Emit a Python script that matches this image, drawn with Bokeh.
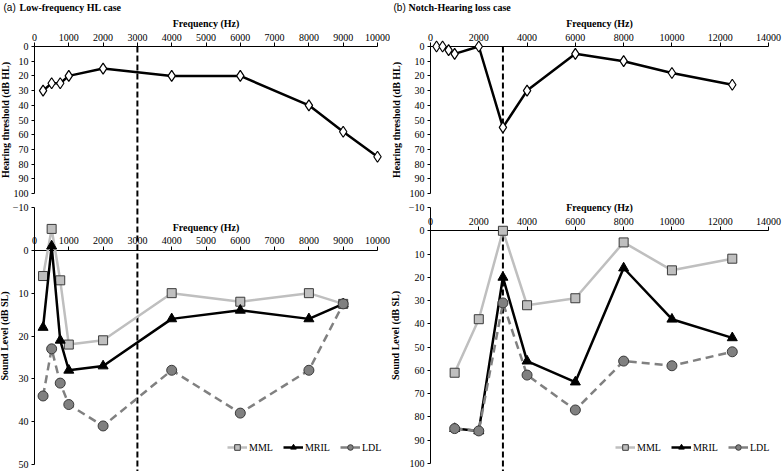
from bokeh.plotting import figure
from bokeh.models import (Range1d, LinearAxis, FixedTicker, Legend, LegendItem, Label)
from bokeh.layouts import row
from bokeh.embed import file_html
from bokeh.resources import INLINE

FONT = "Liberation Serif"

# ---------------- data ----------------
# (a) Low-frequency HL case
freq_a_hl = [250, 500, 750, 1000, 2000, 4000, 6000, 8000, 9000, 10000]
hl_a = [30, 25, 25, 20, 15, 20, 20, 40, 58, 75]
freq_a_sl = [250, 500, 750, 1000, 2000, 4000, 6000, 8000, 9000]
mml_a = [6, -5, 7, 22, 21, 10, 12, 10, 12.5]
mril_a = [18, -1, 21, 28, 27, 16, 14, 16, 12.5]
ldl_a = [34, 23, 31, 36, 41, 28, 38, 28, 12.5]
xticks_a = list(range(0, 10001, 1000))

# (b) Notch-Hearing loss case
freq_b_hl = [250, 500, 750, 1000, 2000, 3000, 4000, 6000, 8000, 10000, 12500]
hl_b = [0, 0, 2.5, 5, 0, 55, 30, 5, 10, 18, 26]
freq_b_sl = [1000, 2000, 3000, 4000, 6000, 8000, 10000, 12500]
mml_b = [61, 38, 0, 32, 29, 5, 17, 12]
mril_b = [85, 86, 20, 56, 65, 16, 38, 46]
ldl_b = [85, 86, 31, 62, 77, 56, 58, 52]
xticks_b = list(range(0, 14001, 2000))

hl_ticks = list(range(0, 101, 10))
sl_ticks_a = list(range(-10, 51, 10))
sl_ticks_b = list(range(-10, 101, 10))
notch_freq = 3000

MML_C = "#bfbfbf"
LDL_C = "#808080"
EDGE = "#3a3a3a"
H = 471


def hrange(px_a, val_a, px_b, val_b, total):
    s = (px_b - px_a) / (val_b - val_a)
    return Range1d(start=val_a - px_a / s, end=val_a + (total - px_a) / s)


def vrange(px_a, val_a, px_b, val_b, total):
    # reversed axis: values grow downwards
    s = (px_b - px_a) / (val_b - val_a)
    return Range1d(start=val_a + (total - px_a) / s, end=val_a - px_a / s)


def style_axis(ax, label, vertical=False, title_gap=0):
    ax.axis_label = label
    ax.axis_label_text_font = FONT
    ax.axis_label_text_font_style = "bold"
    ax.axis_label_text_font_size = "10px"
    ax.axis_label_text_color = "black"
    ax.major_label_text_font = FONT
    ax.major_label_text_font_size = "10px"
    ax.major_label_text_color = "black"
    ax.axis_line_color = "black"
    ax.axis_line_width = 1
    ax.major_tick_line_color = "black"
    ax.major_tick_in = 0
    ax.minor_tick_line_color = None
    ax.level = "underlay"
    if vertical:
        ax.major_tick_out = 3
        ax.major_label_standoff = 3
        ax.axis_label_standoff = title_gap
    else:
        ax.major_tick_out = 4
        ax.major_label_standoff = 2
        ax.axis_label_standoff = 2


def side(width, x0px, x1px, xmax, xticks, tag, title, title_dx, ylab_gap,
         freqs_hl, hl, sl_px, sl_max, sl_ticks, freqs_sl, mml, mril, ldl, leg_x):
    xr = hrange(x0px, 0, x1px, xmax, width)
    yr = vrange(46, 0, 193, 100, H)
    sl = vrange(207, -10, sl_px, sl_max, H)
    p = figure(width=width, height=H, x_range=xr, y_range=yr,
               output_backend="svg", toolbar_location=None,
               x_axis_location=None, y_axis_location=None,
               min_border=0, min_border_left=0, min_border_right=0,
               min_border_top=0, min_border_bottom=0)
    p.extra_y_ranges = {"sl": sl}
    p.xgrid.visible = False
    p.ygrid.visible = False
    p.outline_line_color = None
    p.background_fill_color = "white"
    p.border_fill_color = "white"

    # titles
    p.add_layout(Label(x=xr.start, y=yr.end, x_offset=3, y_offset=-1, text=tag,
                       text_baseline="top", text_font="Liberation Sans",
                       text_font_size="10px", text_color="black"))
    p.add_layout(Label(x=xr.start, y=yr.end, x_offset=title_dx, y_offset=-1, text=title,
                       text_baseline="top", text_font=FONT, text_font_style="bold",
                       text_font_size="10px", text_color="black"))

    # axes of the audiogram panel
    xa = LinearAxis(ticker=FixedTicker(ticks=xticks), fixed_location=0, bounds=(0, xmax))
    style_axis(xa, "Frequency (Hz)")
    p.add_layout(xa, "above")
    ya = LinearAxis(ticker=FixedTicker(ticks=hl_ticks), fixed_location=0, bounds=(0, 100))
    style_axis(ya, "Hearing threshold (dB HL)", vertical=True, title_gap=ylab_gap)
    p.add_layout(ya, "left")

    # axes of the sound level panel
    xb = LinearAxis(ticker=FixedTicker(ticks=xticks), fixed_location=0, bounds=(0, xmax),
                    y_range_name="sl")
    style_axis(xb, "Frequency (Hz)")
    p.add_layout(xb, "above")
    yb = LinearAxis(ticker=FixedTicker(ticks=sl_ticks), fixed_location=0,
                    bounds=(-10, sl_max), y_range_name="sl")
    style_axis(yb, "Sound Level (dB SL)", vertical=True, title_gap=ylab_gap)
    p.add_layout(yb, "left")

    # notch marker (dashed vertical line through both panels)
    p.segment(x0=[notch_freq], y0=[0], x1=[notch_freq], y1=[yr.start],
              line_color="black", line_width=2, line_dash="6 3")

    # audiogram
    p.line(freqs_hl, hl, line_color="black", line_width=2.5)
    p.scatter(freqs_hl, hl, marker="diamond", size=11, fill_color="white",
              line_color="black", line_width=1.2)

    # sound levels
    l1 = p.line(freqs_sl, mml, line_color=MML_C, line_width=2.5, y_range_name="sl")
    s1 = p.scatter(freqs_sl, mml, marker="square", size=9, fill_color=MML_C,
                   line_color=EDGE, line_width=1, y_range_name="sl")
    l2 = p.line(freqs_sl, mril, line_color="black", line_width=2.5, y_range_name="sl")
    s2 = p.scatter(freqs_sl, mril, marker="triangle", size=10, fill_color="black",
                   line_color="black", line_width=1, y_range_name="sl")
    l3 = p.line(freqs_sl, ldl, line_color=LDL_C, line_width=2.5, line_dash="8 5",
                y_range_name="sl")
    s3 = p.scatter(freqs_sl, ldl, marker="circle", size=10, fill_color=LDL_C,
                   line_color=EDGE, line_width=1, y_range_name="sl")
    leg = Legend(items=[LegendItem(label="MML", renderers=[l1, s1]),
                        LegendItem(label="MRIL", renderers=[l2, s2]),
                        LegendItem(label="LDL", renderers=[l3, s3])],
                 orientation="horizontal", location=(leg_x, 17),
                 background_fill_alpha=0, border_line_color=None,
                 label_text_font=FONT, label_text_font_size="10px",
                 label_text_color="black",
                 glyph_width=20, glyph_height=14, label_standoff=2, spacing=10,
                 padding=0, margin=0, label_height=12)
    p.add_layout(leg)
    return p


left = side(390, 34, 377, 10000, xticks_a, "(a)", "Low-frequency HL case", 19, 0,
            freq_a_hl, hl_a, 464, 50, sl_ticks_a, freq_a_sl, mml_a, mril_a, ldl_a, 227)
right = side(392, 40, 378, 14000, xticks_b, "(b)", "Notch-Hearing loss case", 18, 5,
             freq_b_hl, hl_b, 463, 100, sl_ticks_b, freq_b_sl, mml_b, mril_b, ldl_b, 225)

layout = row(left, right)

open("out.html", "w").write(file_html(layout, INLINE))
